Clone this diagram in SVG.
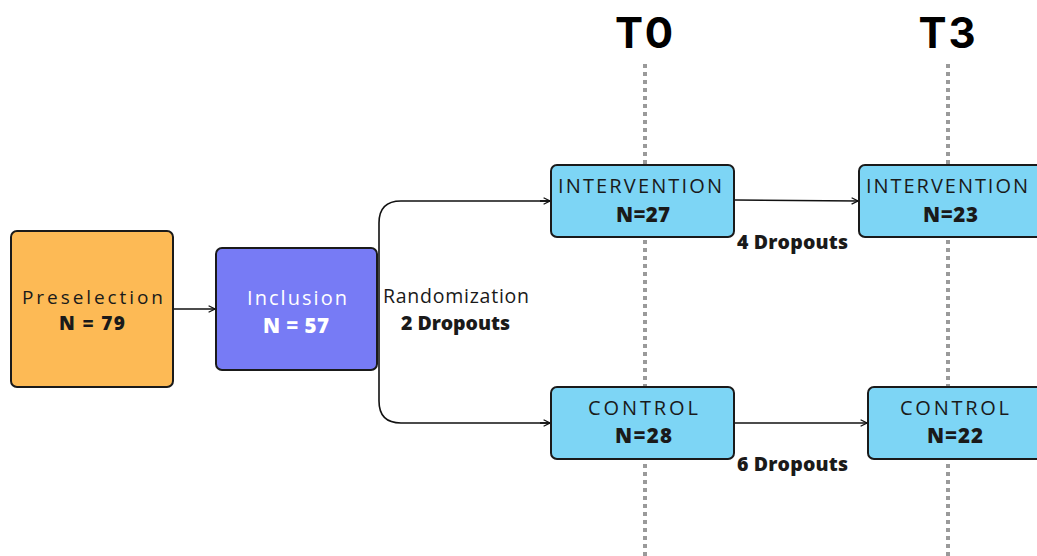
<svg xmlns="http://www.w3.org/2000/svg" width="1037" height="556" viewBox="0 0 1037 556">
<defs>
<marker id="arr" viewBox="0 0 10 10" refX="9" refY="5" markerWidth="8" markerHeight="8" markerUnits="userSpaceOnUse" orient="auto">
<path d="M1,1 L9,5 L1,9" fill="none" stroke="#111" stroke-width="1.6"/>
</marker>
<style>
.box{stroke:#1a1a1a;stroke-width:2}
.blue{fill:#7DD5F5}
.lbl{font-family:"Open Sans","Liberation Sans",sans-serif;font-size:20px;fill:#1a1a1a;text-anchor:middle}
.num{font-family:"Open Sans","Liberation Sans",sans-serif;font-size:20.5px;font-weight:800;fill:#1a1a1a;text-anchor:middle}
.drop{font-family:"Open Sans","Liberation Sans",sans-serif;font-size:19.5px;font-weight:800;fill:#1a1a1a}
.head{font-family:Inter,"Liberation Sans",sans-serif;font-size:42px;font-weight:700;fill:#000;text-anchor:middle}
.dot{stroke:#9a9a9a;stroke-width:4;stroke-dasharray:4 4;fill:none}
.con{stroke:#111;stroke-width:1.6;fill:none}
</style>
</defs>
<rect width="1037" height="556" fill="#fff"/>
<g id="timeline">
<line class="dot" x1="645" y1="64" x2="645" y2="556"/>
<line class="dot" x1="948" y1="64" x2="948" y2="556"/>
<text class="head" x="644" y="48" textLength="58" lengthAdjust="spacing">T0</text>
<text class="head" x="947" y="48" textLength="57" lengthAdjust="spacing">T3</text>
</g>
<g id="connectors">
<line class="con" x1="173" y1="309" x2="215" y2="309" marker-end="url(#arr)"/>
<path class="con" d="M550,201 H401 Q379,201 379,223 V401 Q379,423 401,423 H550"/>
<line class="con" x1="540" y1="201" x2="550" y2="201" marker-end="url(#arr)"/>
<line class="con" x1="540" y1="423" x2="550" y2="423" marker-end="url(#arr)"/>
<line class="con" x1="735" y1="200" x2="858" y2="201" marker-end="url(#arr)"/>
<line class="con" x1="735" y1="423" x2="867" y2="423" marker-end="url(#arr)"/>
<text class="lbl" x="383" y="303" style="text-anchor:start;font-size:19.5px" textLength="146" lengthAdjust="spacing">Randomization</text>
<text class="drop" x="401" y="330" textLength="109" lengthAdjust="spacing">2 Dropouts</text>
<text class="drop" x="737" y="249" textLength="111" lengthAdjust="spacing">4 Dropouts</text>
<text class="drop" x="737" y="471" textLength="111" lengthAdjust="spacing">6 Dropouts</text>
</g>
<g id="preselection">
<rect class="box" x="11" y="231" width="162" height="156" rx="6" fill="#FDBA55"/>
<text class="lbl" x="92.5" y="303.5" style="font-size:19px" textLength="141" lengthAdjust="spacing">Preselection</text>
<text class="num" x="92" y="329.5" style="font-size:19px" textLength="66" lengthAdjust="spacing">N = 79</text>
</g>
<g id="inclusion">
<rect class="box" x="216" y="248" width="161" height="122" rx="6" fill="#777BF5"/>
<text class="lbl" x="297" y="305" style="fill:#fff" textLength="100" lengthAdjust="spacing">Inclusion</text>
<text class="num" x="296" y="333" style="fill:#fff" textLength="66" lengthAdjust="spacing">N = 57</text>
</g>
<g id="intervention-t0">
<rect class="box blue" x="551" y="165" width="183" height="72" rx="6"/>
<text class="lbl" x="640" y="193" textLength="164" lengthAdjust="spacing">INTERVENTION</text>
<text class="num" x="643" y="222" textLength="54" lengthAdjust="spacing">N=27</text>
</g>
<g id="control-t0">
<rect class="box blue" x="551" y="387" width="183" height="72" rx="6"/>
<text class="lbl" x="643" y="415" textLength="110" lengthAdjust="spacing">CONTROL</text>
<text class="num" x="643.5" y="443" textLength="57" lengthAdjust="spacing">N=28</text>
</g>
<g id="intervention-t3">
<rect class="box blue" x="859" y="165" width="190" height="72" rx="6"/>
<text class="lbl" x="947" y="193" textLength="162" lengthAdjust="spacing">INTERVENTION</text>
<text class="num" x="950.5" y="222" textLength="55" lengthAdjust="spacing">N=23</text>
</g>
<g id="control-t3">
<rect class="box blue" x="868" y="387" width="180" height="72" rx="6"/>
<text class="lbl" x="954.5" y="415" textLength="109" lengthAdjust="spacing">CONTROL</text>
<text class="num" x="955" y="443" textLength="56" lengthAdjust="spacing">N=22</text>
</g>
</svg>
